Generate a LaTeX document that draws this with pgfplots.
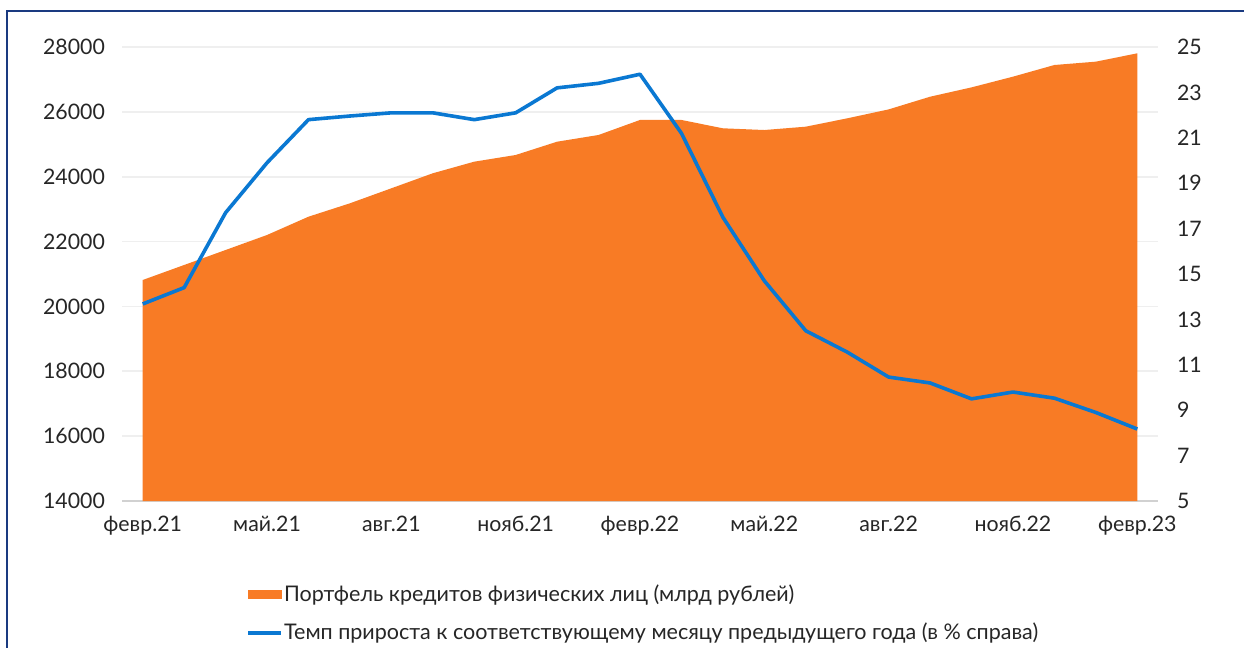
\documentclass[border=0pt]{standalone}
\usepackage{fontspec}
\setmainfont{Lato}
\usepackage{pgfplots}
\pgfplotsset{compat=1.18}
\definecolor{areaor}{HTML}{F87B25}
\definecolor{lineblue}{HTML}{0A78D2}
\definecolor{navy}{HTML}{1A3A80}
\definecolor{gridc}{HTML}{EFEFEF}

\pgfplotstableread{
x  v
0  20815
1  21278
2  21740
3  22203
4  22767
5  23180
6  23643
7  24106
8  24464
9  24670
10 25080
11 25287
12 25750
13 25750
14 25493
15 25440
16 25543
17 25800
18 26076
19 26467
20 26755
21 27085
22 27445
23 27548
24 27805
}\portfolio
\pgfplotstableread{
x  r
0  13.68
1  14.4
2  17.7
3  19.9
4  21.8
5  21.96
6  22.1
7  22.1
8  21.8
9  22.1
10 23.2
11 23.4
12 23.8
13 21.2
14 17.5
15 14.7
16 12.5
17 11.56
18 10.46
19 10.2
20 9.5
21 9.8
22 9.53
23 8.9
24 8.17
}\growth

\begin{document}
\begin{tikzpicture}
\path[use as bounding box] (0,0) rectangle (622bp,-324bp);
\fill[white] (0,0) rectangle (622bp,-324bp);
\draw[navy, line width=1.2bp] (3.5bp,-324bp) -- (3.5bp,-5.5bp) -- (622bp,-5.5bp);
\pgfplotsset{
  common/.style={
    at={(61bp,-250.5bp)}, anchor=south west, scale only axis,
    width=518bp, height=227bp, xmin=-0.5, xmax=24.5,
    font=\fontsize{10.7}{12.8}\selectfont,
    scaled ticks=false,
    /pgf/number format/assume math mode=true,
    /pgf/number format/1000 sep={},
    major tick length=0pt,
    tick style={draw=none},
  }
}
\begin{axis}[common,
  ymin=14000, ymax=28000, ytick={14000,16000,...,28000},
  yticklabel={\pgfmathprintnumber[fixed,precision=0]{\tick}},
  ymajorgrids, grid style={gridc, line width=0.8bp},
  axis x line*=bottom, axis y line*=left,
  y axis line style={draw=none},
  x axis line style={draw=black!18, line width=0.9bp, -},
  xtick={0,3,...,24},
  xticklabels={февр.21,май.21,авг.21,нояб.21,февр.22,май.22,авг.22,нояб.22,февр.23},
  xticklabel style={yshift=-4bp, text=black!85},
  yticklabel style={xshift=-5bp, text=black!85},
]
\addplot[fill=areaor, draw=none] table[x=x, y=v] {\portfolio} \closedcycle;
\end{axis}
\begin{axis}[common,
  ymin=5, ymax=25, ytick={5,7,...,25},
  axis x line=none, axis y line*=right,
  y axis line style={draw=none},
  yticklabel style={anchor=west, xshift=6bp, text=black!85},
  legend style={at={(0.114,-0.172)}, anchor=north west, draw=none, fill=none,
    font=\fontsize{10.8}{12.8}\selectfont, row sep=8.5bp,
    nodes={inner sep=0.5bp, text=black!85}},
  legend cell align=left,
]
\addlegendimage{legend image code/.code={\fill[areaor] (0bp,-2bp) rectangle (16.5bp,2.2bp);}}
\addlegendentry{Портфель кредитов физических лиц (млрд рублей)}
\addplot[lineblue, line width=1.8bp, line join=round,
  legend image code/.code={\draw[lineblue, line width=1.8bp] (0bp,0bp) -- (16.5bp,0bp);}]
  table[x=x, y=r] {\growth};
\addlegendentry{Темп прироста к соответствующему месяцу предыдущего года (в \% справа)}
\end{axis}
\end{tikzpicture}
\end{document}
